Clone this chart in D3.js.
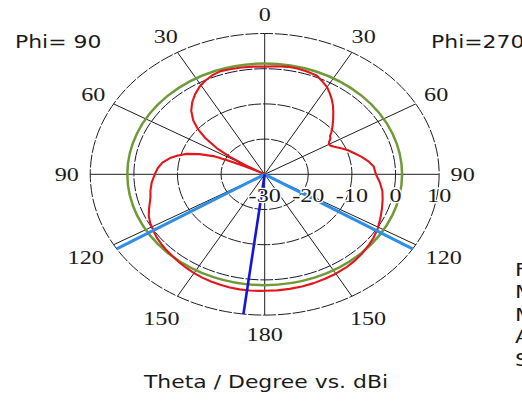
<!DOCTYPE html>
<html>
<head>
<meta charset="utf-8">
<script src="https://cdn.jsdelivr.net/npm/d3@7"></script>
<style>
  html, body { margin: 0; padding: 0; background: #fff; overflow: hidden; }
  svg { display: block; }
</style>
</head>
<body>
<svg id="chart" width="522" height="404"></svg>
<script>
// Farfield cut in dBi. Phi = 90 is drawn on the left half, Phi = 270 on the right half.
const thetaPhi90 = [0, 5, 10, 15, 19, 23, 27, 31, 35, 39, 43, 47, 50, 53, 56, 58, 60, 62, 63, 64, 65, 66, 69, 72, 75, 78, 82, 86, 90,
                    95, 100, 104, 110, 114, 118, 122, 126, 130, 134, 138, 142, 146, 150, 154, 158, 162, 166, 170, 174, 178, 180];
const gainPhi90  = [0.6, 0.7, 0.8, 0.9, 1.0, 0.6, -0.1, -1.0, -2.2, -3.6, -5.3, -7.6, -10.0, -13.0, -16.8, -20.5, -25.0, -30.0, -28.0, -24.0, -20.5, -17.5, -14.0, -11.2, -9.4, -7.8, -6.3, -5.4, -4.8,
                    -4.0, -3.4, -3.0, -1.8, -0.9, -0.3, 0.1, 0.6, 0.9, 1.2, 1.45, 1.8, 2.1, 2.4, 2.65, 2.85, 3.0, 3.15, 3.2, 3.2, 3.15, 3.1];

const thetaPhi270 = [0, 5, 10, 14, 18, 23, 27, 30, 33, 36, 39, 42, 45, 49, 52, 54, 56, 58, 60, 62, 64, 67, 70, 74, 77, 81, 85, 90,
                     95, 100, 105, 110, 115, 121, 126, 130, 135, 140, 145, 150, 155, 160, 165, 170, 175, 180];
const gainPhi270  = [0.6, 0.8, 1.0, 1.0, 0.8, 0.5, -0.6, -1.4, -2.6, -3.8, -5.1, -6.5, -7.8, -9.4, -10.6, -11.5, -11.8, -12.6, -13.0, -12.8, -12.2, -11.0, -9.8, -8.5, -7.4, -6.0, -4.9, -4.5,
                     -3.5, -2.6, -2.0, -1.4, -0.7, 0.2, 0.8, 1.2, 1.7, 2.1, 2.4, 2.6, 2.75, 2.9, 3.0, 3.05, 3.1, 3.1];

// Axis ticks
const angleTicks  = [0, 30, 60, 90, 120, 150, 180];
const radialTicks = [-30, -20, -10, 0, 10];
const ringLevels  = [-20, -10, 0, 10];

// Reference circle, main lobe direction and 3 dB beam edges
const referenceLevel    = 1.5;   // dBi
const mainLobeTheta     = 173;   // deg, Phi = 90 side
const beamEdgeTheta90   = 122;   // deg, Phi = 90 side
const beamEdgeTheta270  = 122;   // deg, Phi = 270 side

// Geometry: the plot is drawn in a horizontally stretched frame
const stretchX = 1.239;
const cx = 264.7 / stretchX, cy = 174.3, R = 140.8;

const svg = d3.select("#chart");
const root = svg.append("g").attr("transform", `scale(${stretchX},1)`);
const plot = root.append("g").attr("transform", `translate(${cx},${cy})`);

const r = d3.scaleLinear().domain([-30, 10]).range([0, R]).clamp(true);
const rad = d => d * Math.PI / 180;
// left half (Phi = 90) uses negative angles, right half (Phi = 270) positive
const pt = (aDeg, radius) => [radius * Math.sin(rad(aDeg)), -radius * Math.cos(rad(aDeg))];

const gridColor = "#1e1e1e";

// rings
plot.selectAll("circle.ring").data(ringLevels).join("circle")
  .attr("class", "ring")
  .attr("r", d => r(d))
  .attr("fill", "none")
  .attr("stroke", d => d === 0 ? "#15153a" : gridColor)
  .attr("stroke-width", 1)
  .attr("stroke-dasharray", "13,1.8")
  .attr("vector-effect", "non-scaling-stroke");

// spokes on both halves
const spokeAngles = [];
angleTicks.forEach(t => { spokeAngles.push(t); if (t !== 0 && t !== 180) spokeAngles.push(-t); });
plot.selectAll("line.spoke").data(spokeAngles).join("line")
  .attr("class", "spoke")
  .attr("x1", 0).attr("y1", 0)
  .attr("x2", d => pt(d, R)[0]).attr("y2", d => pt(d, R)[1])
  .attr("stroke", gridColor)
  .attr("stroke-width", 1)
  .attr("vector-effect", "non-scaling-stroke");

// reference circle
plot.append("circle")
  .attr("r", r(referenceLevel))
  .attr("fill", "none")
  .attr("stroke", "#6e9a37")
  .attr("stroke-width", 2.5)
  .attr("vector-effect", "non-scaling-stroke");

// farfield curve
const pts = [];
for (let i = thetaPhi90.length - 1; i >= 0; i--) pts.push({ a: -thetaPhi90[i], v: gainPhi90[i] });
for (let i = 0; i < thetaPhi270.length; i++) pts.push({ a: thetaPhi270[i], v: gainPhi270[i] });

const radial = d3.lineRadial()
  .angle(d => rad(d.a))
  .radius(d => r(d.v))
  .curve(d3.curveLinearClosed);

plot.append("path")
  .attr("d", radial(pts))
  .attr("fill", "none")
  .attr("stroke", "#e3161c")
  .attr("stroke-width", 2.1)
  .attr("stroke-linejoin", "round")
  .attr("vector-effect", "non-scaling-stroke");

// 3 dB beam edges
[-beamEdgeTheta90, beamEdgeTheta270].forEach(a => {
  plot.append("line")
    .attr("x1", 0).attr("y1", 0)
    .attr("x2", pt(a, R)[0]).attr("y2", pt(a, R)[1])
    .attr("stroke", "#2d8fea")
    .attr("stroke-width", 3)
    .attr("vector-effect", "non-scaling-stroke");
});

// main lobe direction
plot.append("line")
  .attr("x1", 0).attr("y1", 0)
  .attr("x2", pt(-mainLobeTheta, R)[0]).attr("y2", pt(-mainLobeTheta, R)[1])
  .attr("stroke", "#1414dc")
  .attr("stroke-width", 2.6)
  .attr("vector-effect", "non-scaling-stroke");

// angle labels
const serif = "'Liberation Serif', 'Times New Roman', serif";
const sans = "Verdana, 'DejaVu Sans', sans-serif";
const angleLabels = [];
angleTicks.forEach(t => {
  angleLabels.push({ a: t, text: String(t) });
  if (t !== 0 && t !== 180) angleLabels.push({ a: -t, text: String(t) });
});
const labelRadius = a => R * (Math.abs(a) > 100 && Math.abs(a) < 170 ? 1.185 : 1.135);
plot.selectAll("text.angle").data(angleLabels).join("text")
  .attr("class", "angle")
  .attr("x", d => pt(d.a, labelRadius(d.a))[0])
  .attr("y", d => pt(d.a, labelRadius(d.a))[1])
  .attr("text-anchor", "middle")
  .attr("dominant-baseline", "central")
  .attr("font-family", serif)
  .attr("font-size", 19.5)
  .attr("fill", "#1a1a1a")
  .text(d => d.text);

// radial labels along the Phi = 270 horizontal axis
plot.selectAll("text.radial").data(radialTicks).join("text")
  .attr("class", "radial")
  .attr("x", d => r(d))
  .attr("y", 21)
  .attr("text-anchor", "middle")
  .attr("dominant-baseline", "central")
  .attr("font-family", serif)
  .attr("font-size", 19.5)
  .attr("fill", "#1a1a1a")
  .attr("stroke", "#fff")
  .attr("stroke-width", 2.5)
  .attr("paint-order", "stroke")
  .text(d => d);

// cut labels
root.append("text").attr("x", 12.1).attr("y", 48)
  .attr("font-family", sans).attr("font-size", 17.7).attr("fill", "#1a1a1a")
  .text("Phi= 90");
root.append("text").attr("x", 347.9).attr("y", 48)
  .attr("font-family", sans).attr("font-size", 17.7).attr("fill", "#1a1a1a")
  .text("Phi=270");

// axis title
root.append("text").attr("x", 214.7).attr("y", 388)
  .attr("text-anchor", "middle")
  .attr("font-family", sans).attr("font-size", 17.7).attr("fill", "#1a1a1a")
  .text("Theta / Degree vs. dBi");

// summary block
const mainLobe = Math.max(d3.max(gainPhi90), d3.max(gainPhi270));
const upperLobe = Math.max(
  d3.max(gainPhi90.filter((g, i) => thetaPhi90[i] < 60)),
  d3.max(gainPhi270.filter((g, i) => thetaPhi270[i] < 60)));
const summary = [
  "Frequency =",
  `Main lobe magnitude = ${mainLobe.toFixed(1)} dBi`,
  `Main lobe direction = ${mainLobeTheta.toFixed(1)} deg.`,
  `Angular width (3 dB) = ${(360 - beamEdgeTheta90 - beamEdgeTheta270).toFixed(1)} deg.`,
  `Side lobe level = ${(upperLobe - mainLobe).toFixed(1)} dB`
];
root.selectAll("text.summary").data(summary).join("text")
  .attr("class", "summary")
  .attr("x", 515 / stretchX)
  .attr("y", (d, i) => 276 + i * 22.5)
  .attr("font-family", sans).attr("font-size", 17.7).attr("fill", "#1a1a1a")
  .text(d => d);
</script>
</body>
</html>
